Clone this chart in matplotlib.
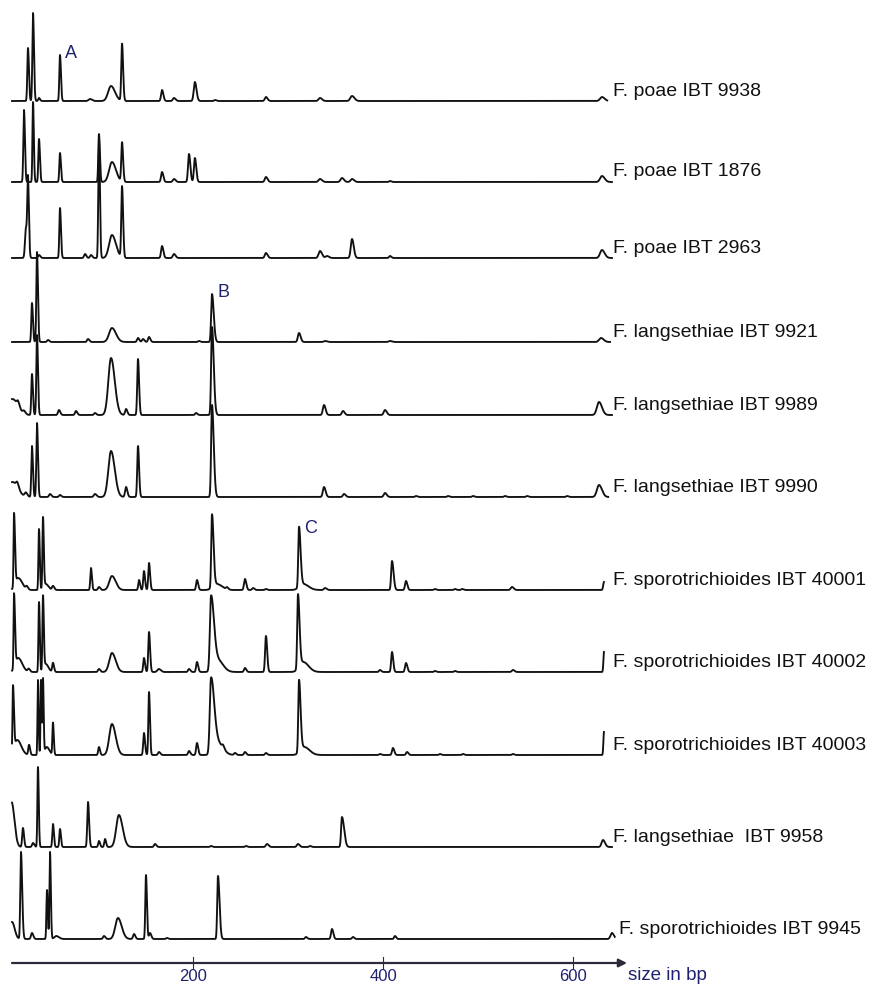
import numpy as np
import matplotlib
matplotlib.use("Agg")
import matplotlib.pyplot as plt

plt.rcParams["font.family"] = ["Liberation Sans", "DejaVu Sans"]

# sample names, top to bottom
strains = ["F. poae IBT 9938", "F. poae IBT 1876", "F. poae IBT 2963",
           "F. langsethiae IBT 9921", "F. langsethiae IBT 9989", "F. langsethiae IBT 9990",
           "F. sporotrichioides IBT 40001", "F. sporotrichioides IBT 40002",
           "F. sporotrichioides IBT 40003", "F. langsethiae  IBT 9958",
           "F. sporotrichioides IBT 9945"]

# peaks: (size bp, height, width bp[, right tail factor])
peaks_9938 = [(26.3, 53, 0.7), (31.6, 88, 0.7), (37.9, 3, 0.8), (60, 46, 0.7), (91.6, 2, 1.5),
              (113.7, 15, 3.0), (125.3, 57, 0.8), (167.4, 11, 1.0), (180, 3, 1.2), (202, 19, 1.2),
              (223.2, 1, 1), (276.8, 4, 1.2), (333.7, 3, 1.5), (367.4, 5, 1.8), (630.5, 4, 2)]
peaks_1876 = [(22.1, 72, 0.7), (31.6, 80, 0.6), (37.9, 43, 0.7), (60, 29, 0.7), (101, 48, 0.7),
              (114.7, 20, 3.0), (125.3, 39, 0.8), (167.4, 10, 1.0), (180, 3, 1.2), (195.8, 28, 1.0),
              (202, 24, 1.0), (276.8, 5, 1.2), (333.7, 3, 1.5), (356.8, 4, 1.5), (367.4, 3, 1.5),
              (407.4, 1, 1), (630.5, 6, 2)]
peaks_2963 = [(24.2, 30, 1.0), (26.3, 73, 0.7), (37.9, 3, 1), (60, 50, 0.7), (86.3, 4, 1),
              (92.6, 3, 1), (101, 120, 0.7), (114.7, 23, 3.0), (125.3, 71, 0.8), (167.4, 12, 1.0),
              (180, 4, 1.2), (276.8, 5, 1.2), (333.7, 7, 1.5), (341, 2, 1.5), (367.4, 19, 1.3),
              (407.4, 2, 1), (630.5, 8, 2)]
peaks_9921 = [(30.5, 39, 0.7), (35.8, 90, 0.7), (47.4, 2, 1), (89.5, 3, 1), (114.7, 14, 3.0),
              (142.1, 4, 1), (147.4, 3, 1), (153.7, 5, 1), (206.3, 1, 1), (220, 48, 0.9, 2),
              (311.6, 9, 1.2), (339, 1, 1.5), (407.4, 1, 1.5), (629.5, 4, 2)]
peaks_9989 = [(10, 16, 4), (15.8, 5, 1.2), (22, 3, 1.2), (30.5, 41, 0.7), (35.8, 80, 0.7),
              (58.9, 5, 1), (76.8, 4, 1), (96.8, 2, 1), (113.7, 57, 2.8), (129.5, 6, 1),
              (142.1, 56, 0.8), (203.2, 2, 1), (220, 88, 0.9, 2), (337.9, 10, 1.2), (357.9, 4, 1.2),
              (402.1, 5, 1.3), (627.4, 13, 2.2)]
peaks_9990 = [(10, 15, 4), (15, 5, 1.2), (24, 4, 1.2), (30.5, 51, 0.7), (35.8, 74, 0.7),
              (49.5, 3, 1), (60, 2, 1), (96.8, 3, 1.2), (113.7, 46, 2.8), (129.5, 10, 1),
              (142.1, 51, 0.8), (220, 92, 0.9, 2), (337.9, 10, 1.2), (359, 3, 1.2), (402.1, 4, 1.3),
              (434.7, 1, 1), (468.4, 1, 1), (494.7, 1, 1), (528.4, 1, 1), (551.6, 1, 1),
              (593.7, 1, 1), (627.4, 12, 2.2)]
peaks_40001 = [(11.6, 73, 0.5, 2), (16, 12, 3), (25, 3, 1), (37.9, 61, 0.6), (42.1, 71, 0.6),
               (45, 6, 2), (52.6, 4, 1), (92.6, 22, 0.7), (101, 3, 1), (114.7, 14, 2.8),
               (143.2, 10, 0.8), (148.4, 19, 0.8), (153.7, 27, 0.8), (204.2, 10, 0.9),
               (220, 73, 0.8, 2), (225, 6, 4), (235.8, 2, 1), (254.7, 11, 1.0), (263.2, 2, 1),
               (276.8, 1, 1), (311.6, 60, 0.8, 2), (316, 6, 4), (339, 2, 1.2), (409.5, 29, 0.9, 1.8),
               (424.2, 9, 1.0), (454.7, 1, 1), (475.8, 1, 1), (483.2, 1, 1), (535.8, 3, 1.3),
               (632.6, 8, 0.8)]
peaks_40002 = [(11.6, 74, 0.5, 2), (16, 14, 3), (27, 3, 1), (37.9, 70, 0.6), (42.1, 74, 0.6),
               (45, 8, 2), (52.6, 9, 0.8), (101, 3, 1), (114.7, 19, 2.8), (148.4, 14, 0.8),
               (153.7, 40, 0.8), (164, 3, 1.5), (195.8, 3, 1), (204.2, 10, 0.9), (219, 74, 1.2, 2.5),
               (226, 12, 4), (254.7, 4, 1), (276.8, 36, 0.9), (310.5, 74, 0.8, 2), (316, 10, 4),
               (396.8, 2, 1), (409.5, 20, 0.9), (424.2, 9, 1), (454.7, 1, 1), (475.8, 1, 1),
               (536.8, 2, 1.2), (632.6, 20, 0.6)]
peaks_40003 = [(10.5, 65, 0.5, 2), (15, 15, 3), (27.4, 10, 0.8), (36.8, 75, 0.5), (40, 75, 0.5),
               (42.1, 75, 0.5), (46, 8, 2), (52.6, 32, 0.6), (101, 8, 0.8), (114.7, 31, 2.8),
               (148.4, 22, 0.8), (153.7, 63, 0.7), (164.2, 3, 1), (195.8, 4, 1), (204.2, 12, 0.9),
               (219, 75, 1.3, 2.5), (226, 12, 4), (231.6, 3, 1), (244.2, 2, 1), (254.7, 3, 1),
               (276.8, 2, 1), (311.6, 72, 0.8, 2), (317, 8, 4), (396.8, 1, 1), (410.5, 7, 1),
               (425.3, 3, 1), (460, 1, 1), (484.2, 1, 1), (536.8, 1, 1), (632.6, 23, 0.6)]
peaks_9958 = [(9, 45, 1, 3), (21, 19, 0.8), (31.6, 4, 1), (36.8, 80, 0.6), (52.6, 23, 0.7),
              (60, 18, 0.7), (89.5, 45, 0.8), (101, 6, 0.8), (107.4, 8, 0.8), (122, 32, 2.8),
              (160, 3, 1), (219, 1, 1), (255.8, 1, 1), (277.9, 3, 1.2), (310.5, 3, 1.2),
              (323.2, 1, 1), (356.8, 30, 0.9, 2.5), (631.6, 7, 1.5)]
peaks_9945 = [(9.5, 17, 2), (18.9, 87, 0.7, 1.8), (30.5, 6, 1), (46.3, 49, 0.6), (49.5, 87, 0.6),
              (56, 3, 2), (106.3, 3, 1), (121, 21, 2.8), (137.9, 5, 1), (150.5, 64, 0.7),
              (154.7, 6, 1), (172.6, 1, 1), (226.3, 63, 0.8, 2), (318.9, 2, 1), (346.3, 10, 1),
              (368.4, 2, 1), (412.6, 3, 0.9), (641, 6, 1.5)]

trace_peaks = [peaks_9938, peaks_1876, peaks_2963, peaks_9921, peaks_9989, peaks_9990,
               peaks_40001, peaks_40002, peaks_40003, peaks_9958, peaks_9945]
trace_end = [636, 641, 641, 639, 641, 637, 632.6, 632.6, 632.6, 641, 644]

size_ticks = [200, 400, 600]
# marker letters: (letter, trace index, peak size in bp)
marker_letters = [("A", 0, 60), ("B", 3, 220), ("C", 6, 311.6)]

# layout (pixel rows of each baseline)
baselines = [101, 182, 258, 342, 415, 497, 590, 672, 755, 847, 939]
navy = "#1f2270"


def px_to_bp(x):
    return (x - 3) / 0.95


def trace_signal(peaks, end):
    x = np.arange(9.5, end + 0.05, 0.1)
    y = np.zeros_like(x)
    for pk in peaks:
        pos, h, w = pk[:3]
        tail = pk[3] if len(pk) > 3 else 1.4
        sig = np.where(x < pos, w, w * tail)
        y += h * np.exp(-0.5 * ((x - pos) / sig) ** 2)
    return x, y


fig = plt.figure(figsize=(8.8, 9.88), dpi=100)
ax = fig.add_axes([0, 0, 1, 1])
ax.set_xlim(px_to_bp(0), px_to_bp(880))
ax.set_ylim(988, 0)
ax.axis("off")

for name, peaks, end, base in zip(strains, trace_peaks, trace_end, baselines):
    x, y = trace_signal(peaks, end)
    ax.plot(x, base - y, color="#111111", lw=1.35, solid_joinstyle="round")
    lx = px_to_bp(619) if name.endswith("9945") else px_to_bp(613)
    ax.text(lx, base - 10, name, fontsize=14, va="center", ha="left", color="#111111")

for letter, ti, pos in marker_letters:
    h = max(p[1] for p in trace_peaks[ti] if p[0] == pos)
    ax.text(pos + 12, baselines[ti] - h - 2, letter, fontsize=13, color=navy,
            ha="center", va="center")

# size axis with arrow
axis_y = 963
ax.annotate("", xy=(px_to_bp(627), axis_y), xytext=(px_to_bp(12), axis_y),
            arrowprops=dict(arrowstyle="-|>", color="#2a2a3a", lw=1.6,
                            mutation_scale=12, shrinkA=0, shrinkB=0))
for t in size_ticks:
    ax.plot([t, t], [axis_y - 6, axis_y + 5], color="#2a2a3a", lw=0.8)
    ax.text(t, axis_y + 13, str(t), fontsize=12, color=navy, ha="center", va="center")
ax.text(px_to_bp(628), axis_y + 12, "size in bp", fontsize=13.5, color=navy,
        ha="left", va="center")

fig.savefig("out.png", dpi=100)
